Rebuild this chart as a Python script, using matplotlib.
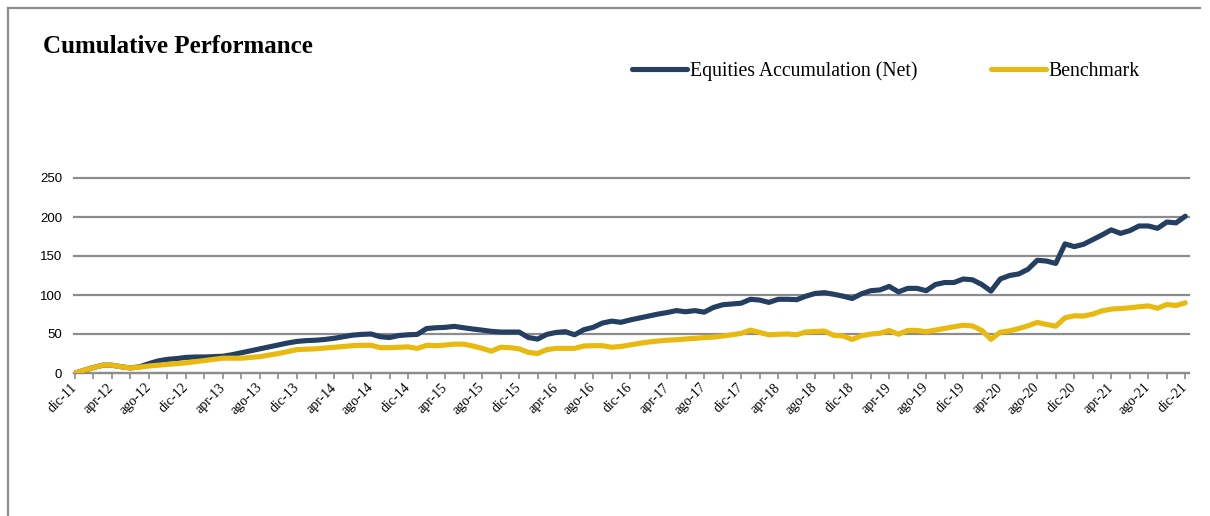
import matplotlib
matplotlib.use('Agg')
import matplotlib.pyplot as plt
import matplotlib.transforms as mtransforms
from matplotlib.lines import Line2D

# ---------------- data ----------------
tick_labels = ['dic-11', 'apr-12', 'ago-12', 'dic-12', 'apr-13', 'ago-13', 'dic-13',
               'apr-14', 'ago-14', 'dic-14', 'apr-15', 'ago-15', 'dic-15', 'apr-16',
               'ago-16', 'dic-16', 'apr-17', 'ago-17', 'dic-17', 'apr-18', 'ago-18',
               'dic-18', 'apr-19', 'ago-19', 'dic-19', 'apr-20', 'ago-20', 'dic-20',
               'apr-21', 'ago-21', 'dic-21']

series_names = ['Equities Accumulation (Net)', 'Benchmark']

equities = [0, 3.5, 7, 10, 10, 8, 6.5, 8, 12, 15.5,
            17.5, 18.5, 20, 20.5, 20.5, 21, 21.5, 23.5, 26, 28.5,
            31, 33.5, 36, 38.5, 40.5, 41.5, 42, 43, 44.5, 46.5,
            48.5, 49.5, 50, 46.5, 45.5, 48, 49, 49.5, 57, 58,
            58.5, 59.8, 58, 56.4, 55, 53.4, 52.5, 52.5, 52.5, 45.5,
            43.5, 49.5, 52, 53, 49, 55.5, 58.5, 64, 66.5, 65,
            68, 70.5, 73, 75.5, 77.5, 80, 78.5, 80, 78, 84,
            87.5, 88.5, 89.5, 94.5, 93.5, 90.5, 94.5, 94.5, 94, 98.5,
            102, 103, 101, 98.5, 95.5, 101.5, 105.5, 106.5, 111, 104,
            108.5, 108.5, 105.5, 113.5, 116, 116, 120.5, 119.5, 113.5, 105,
            120.5, 125, 127, 133, 144.5, 143.5, 140.5, 165.5, 162, 165,
            171, 177, 183.5, 179, 182.5, 188.5, 188.5, 185.5, 193.5, 192.5,
            201]

benchmark = [0, 3.5, 7, 10, 10, 8, 6.5, 7.5, 9, 10,
             11, 12, 13, 14.5, 16, 17.5, 19, 19, 19, 20,
             21, 23, 25, 27.5, 30, 30.5, 31, 32, 33, 34,
             35, 35.5, 35.5, 32.5, 32.5, 33, 33.5, 31.5, 35.5, 35,
             35.8, 37, 37, 34.6, 31.6, 28, 33, 32.5, 31, 26.5,
             25, 30, 31.6, 31.6, 31.6, 34.6, 35, 35, 33, 34,
             36, 38, 39.7, 41, 42, 42.7, 43.6, 44.4, 45.3, 46,
             47.4, 49, 50.8, 55, 52, 49, 49.6, 50, 49, 52.6,
             53.2, 53.8, 48.3, 47.6, 43, 47.8, 49.9, 51, 54.5, 49.7,
             54.6, 54.6, 52.9, 55, 57.2, 59.3, 61.2, 60.3, 54.6, 43.2,
             52.3, 54, 57, 60.5, 64.8, 62.3, 60, 70.8, 73.3, 73,
             75.5, 79.7, 81.9, 82.7, 83.6, 84.9, 86, 83, 87.8, 86.6,
             90]

# ---------------- style ----------------
BLUE = '#243F61'
GOLD = '#E8B90E'
GRID = '#8C8C8C'
W, H = 1210, 516

fig = plt.figure(figsize=(W / 100, H / 100), dpi=100)

# outer frame (top and left edges)
fig.add_artist(Line2D([8 / W, 8 / W], [0, 1 - 8 / H], transform=fig.transFigure,
                      color='#8C8C8C', lw=1.6))
fig.add_artist(Line2D([8 / W, 1200 / W], [1 - 8 / H, 1 - 8 / H], transform=fig.transFigure,
                      color='#8C8C8C', lw=1.6))

ax = fig.add_axes([74 / W, 1 - 373 / H, (1189 - 74) / W, (373 - 178) / H])
x = list(range(len(equities)))
ax.plot(x, equities, color=BLUE, lw=3.7, solid_joinstyle='round',
        solid_capstyle='round', zorder=3, label=series_names[0])
ax.plot(x, benchmark, color=GOLD, lw=3.7, solid_joinstyle='round',
        solid_capstyle='round', zorder=4, label=series_names[1])

ax.set_ylim(0, 250)
ax.set_xlim(-0.1, len(equities) - 1 + 0.4)
ax.set_yticks(range(0, 251, 50))
ax.grid(axis='y', color=GRID, lw=1.6)
for gl in ax.yaxis.get_gridlines():
    gl.set_clip_on(False)
ax.set_axisbelow(True)
for s in ['top', 'right', 'left']:
    ax.spines[s].set_visible(False)
ax.spines['bottom'].set_color(GRID)
ax.spines['bottom'].set_linewidth(1.6)

ax.set_xticks(range(0, len(equities), 4))
ax.set_xticks(range(0, len(equities), 2), minor=True)
ax.set_xticklabels(tick_labels, rotation=45, ha='right', va='center',
                   rotation_mode='anchor', family='Liberation Serif', fontsize=10)
offset = mtransforms.ScaledTranslation(4 / 100, 0, fig.dpi_scale_trans)
for lab in ax.get_xticklabels():
    lab.set_transform(lab.get_transform() + offset)
ax.tick_params(axis='x', which='both', length=4, width=1.2, color=GRID, pad=5)
ax.tick_params(axis='y', length=0, pad=8.6, labelsize=9.5)
for lab in ax.get_yticklabels():
    lab.set_family('Liberation Sans')

# title
fig.text(43 / W, 1 - 47 / H, 'Cumulative Performance', family='Liberation Serif',
         fontweight='bold', fontsize=18, va='center', ha='left')

# legend
handles = [Line2D([], [], color=BLUE, lw=3.7, solid_capstyle='round'),
           Line2D([], [], color=GOLD, lw=3.7, solid_capstyle='round')]
fig.legend(handles, series_names, loc='center left',
           bbox_to_anchor=(632 / W, 1 - 71 / H), ncol=2, frameon=False,
           prop={'family': 'Liberation Serif', 'size': 14.2},
           handlelength=2.8, handletextpad=0.15, columnspacing=3.7,
           borderpad=0, borderaxespad=0)

fig.savefig('out.png', dpi=100)
